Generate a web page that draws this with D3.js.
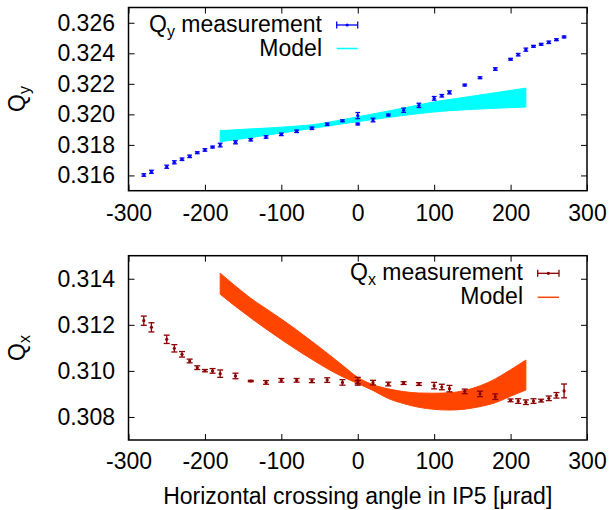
<!DOCTYPE html>
<html><head><meta charset="utf-8">
<script src="https://cdn.jsdelivr.net/npm/d3@7"></script>
<style>
body{margin:0;background:#fff;}
svg{display:block;font-family:"Liberation Sans",Arial,sans-serif;}
</style></head>
<body><svg id="c" width="610" height="510"></svg>
<script>
// ---- data ----
const angles = [-280,-270,-250,-240,-230,-220,-210,-200,-190,-180,-160,-140,-120,-100,-80,-60,-40,-20,0,0,20,40,60,80,100,110,120,140,160,180,200,210,220,230,240,250,260,270];
const qyMeas = [0.31603,0.31624,0.31657,0.31686,0.31706,0.31725,0.31749,0.31767,0.31786,0.31799,0.31817,0.31834,0.31852,0.31869,0.31889,0.31909,0.31935,0.31958,0.31992,0.31937,0.31963,0.31996,0.32027,0.32059,0.32105,0.32122,0.32144,0.32192,0.32240,0.32297,0.32361,0.32391,0.32424,0.32446,0.32459,0.32472,0.32489,0.32507];
const qyErr = [0.00008,0.0001,0.0001,0.0001,0.00008,0.00008,0.00006,0.00008,0.00006,0.00012,0.0001,0.00008,0.00008,0.00008,0.00008,0.00008,0.00008,0.00006,0.0002,0.00006,0.00012,0.00006,0.00014,0.00014,0.00012,0.00008,0.0001,0.00006,0.00006,0.00008,0.00006,0.00008,0.0001,0.00006,0.00006,0.00008,0.00006,0.00006];
const qxMeas = [0.31218,0.31189,0.31137,0.31098,0.31072,0.31043,0.31014,0.31001,0.31000,0.30988,0.30978,0.30956,0.30950,0.30959,0.30959,0.30957,0.30960,0.30950,0.30958,0.30948,0.30949,0.30943,0.30947,0.30943,0.30936,0.30930,0.30923,0.30911,0.30900,0.30888,0.30872,0.30869,0.30864,0.30869,0.30871,0.30881,0.30894,0.30913];
const qxErr = [0.0002,0.0002,0.00018,0.00016,0.00012,0.00008,0.00008,0.00005,0.0001,0.00016,0.00012,0.00003,0.00008,0.00008,0.00008,0.00008,0.0001,0.00012,0.00014,0.0001,0.0001,0.00008,0.00006,0.00006,0.00014,0.00012,0.00014,0.0001,0.00012,0.00012,0.00006,0.0001,0.0001,0.0001,0.00006,0.0001,0.00012,0.0003];
const modelAngles = [-180,-160,-140,-120,-100,-80,-60,-40,-20,0,20,40,60,80,100,120,140,160,180,200,220];
const qyModelHigh = [0.31893,0.31899,0.31905,0.31910,0.31916,0.31923,0.31932,0.31947,0.31965,0.31984,0.32003,0.32022,0.32042,0.32062,0.32082,0.32097,0.32112,0.32127,0.32142,0.32157,0.32172];
const qyModelLow  = [0.31821,0.31834,0.31848,0.31863,0.31878,0.31893,0.31908,0.31923,0.31938,0.31952,0.31966,0.31980,0.31993,0.32005,0.32016,0.32024,0.32030,0.32035,0.32040,0.32044,0.32048];
const qxModelHigh = [0.31424,0.31368,0.31315,0.31270,0.31225,0.31178,0.31128,0.31077,0.31024,0.30972,0.30940,0.30922,0.30910,0.30904,0.30903,0.30905,0.30915,0.30935,0.30965,0.31005,0.31047];
const qxModelLow  = [0.31333,0.31280,0.31230,0.31182,0.31136,0.31092,0.31050,0.31010,0.30975,0.30945,0.30915,0.30880,0.30858,0.30842,0.30833,0.30830,0.30834,0.30845,0.30862,0.30890,0.30917];
const xTicks = [-300,-200,-100,0,100,200,300];
const qyTicks = [0.316,0.318,0.320,0.322,0.324,0.326];
const qxTicks = [0.308,0.310,0.312,0.314];
const xTitle = "Horizontal crossing angle in IP5 [\u03bcrad]";

// ---- drawing ----
const svg = d3.select("#c");
const FS = 23, SUB = 16;
const FONT = "Liberation Sans, Arial, sans-serif";
const x = d3.scaleLinear().domain([-300,300]).range([128.5,587]);

function panel(o){
  const y = d3.scaleLinear().domain(o.ydom).range([o.bottom,o.top]);
  const g = svg.append("g");
  // model band
  const band = modelAngles.map((a,i)=>({a, hi:o.hi[i], lo:o.lo[i]}));
  g.append("path").datum(band)
    .attr("fill",o.modelColor).attr("stroke",o.modelColor).attr("stroke-width",1)
    .attr("d", d3.area().curve(d3.curveMonotoneX).x(d=>x(d.a)).y0(d=>y(d.lo)).y1(d=>y(d.hi)));
  // measurements
  const pts = angles.map((a,i)=>({a, v:o.meas[i], e:o.err[i]}));
  const m = g.append("g").attr("stroke",o.measColor).attr("fill",o.measColor);
  const cw = o.cap;
  pts.forEach(d=>{
    const px=x(d.a), y1=y(d.v+d.e), y2=y(d.v-d.e);
    m.append("line").attr("x1",px).attr("x2",px).attr("y1",y1).attr("y2",y2).attr("stroke-width",1.3);
    m.append("line").attr("x1",px-cw).attr("x2",px+cw).attr("y1",y1).attr("y2",y1).attr("stroke-width",1.3);
    m.append("line").attr("x1",px-cw).attr("x2",px+cw).attr("y1",y2).attr("y2",y2).attr("stroke-width",1.3);
    m.append("circle").attr("cx",px).attr("cy",y(d.v)).attr("r",1.6).attr("stroke","none");
  });
  // axes
  const ax = g.append("g");
  const bAx = ax.append("g").attr("transform",`translate(0,${o.bottom})`)
    .call(d3.axisBottom(x).tickValues(xTicks).tickSize(-6).tickPadding(o.xpad).tickFormat(d3.format("d")));
  ax.append("g").attr("transform",`translate(0,${o.top})`)
    .call(d3.axisTop(x).tickValues(xTicks).tickSize(-6).tickFormat(""));
  ax.append("g").attr("transform",`translate(${x.range()[0]},0)`)
    .call(d3.axisLeft(y).tickValues(o.yticks).tickSize(-6).tickPadding(13.5).tickFormat(d3.format(".3f")));
  ax.append("g").attr("transform",`translate(${x.range()[1]},0)`)
    .call(d3.axisRight(y).tickValues(o.yticks).tickSize(-6).tickFormat(""));
  ax.selectAll(".domain").remove();
  ax.selectAll(".tick line").attr("stroke","#000").attr("stroke-width",1);
  ax.selectAll("text").attr("fill","#000").attr("font-family",FONT).attr("font-size",FS);
  bAx.selectAll("text").text(d=> d<0 ? "-"+Math.abs(d) : d);
  // frame
  g.append("rect").attr("x",x.range()[0]).attr("y",o.top)
    .attr("width",x.range()[1]-x.range()[0]).attr("height",o.bottom-o.top)
    .attr("fill","none").attr("stroke","#000").attr("stroke-width",1.5);
  // y title
  const t = g.append("text").attr("transform",`translate(${o.titleX},${o.titleY}) rotate(-90)`)
    .attr("text-anchor","middle").attr("font-size",FS);
  t.append("tspan").text("Q");
  t.append("tspan").text(o.sub).attr("font-size",SUB).attr("dy",5);
  // legend
  const L = g.append("g").attr("font-size",FS);
  const t1 = L.append("text").attr("x",o.legTextX).attr("y",o.leg1Y+7).attr("text-anchor","end");
  t1.append("tspan").text("Q");
  t1.append("tspan").text(o.sub).attr("font-size",SUB).attr("dy",5);
  t1.append("tspan").text(" measurement").attr("dy",-5);
  L.append("text").attr("x",o.legTextX).attr("y",o.leg2Y+7).attr("text-anchor","end").text("Model");
  const ls = L.append("g").attr("stroke",o.measColor).attr("stroke-width",1.3);
  ls.append("line").attr("x1",o.sampleX1).attr("x2",o.sampleX2).attr("y1",o.leg1Y).attr("y2",o.leg1Y);
  ls.append("line").attr("x1",o.sampleX1).attr("x2",o.sampleX1).attr("y1",o.leg1Y-3.5).attr("y2",o.leg1Y+3.5);
  ls.append("line").attr("x1",o.sampleX2).attr("x2",o.sampleX2).attr("y1",o.leg1Y-3.5).attr("y2",o.leg1Y+3.5);
  L.append("circle").attr("cx",(o.sampleX1+o.sampleX2)/2).attr("cy",o.leg1Y).attr("r",1.6).attr("fill",o.measColor);
  L.append("line").attr("x1",o.sampleX1).attr("x2",o.sampleX2).attr("y1",o.leg2Y).attr("y2",o.leg2Y)
    .attr("stroke",o.modelColor).attr("stroke-width",1.5);
}

panel({ydom:[0.315,0.327], top:7.5, bottom:190.7, meas:qyMeas, err:qyErr, hi:qyModelHigh, lo:qyModelLow,
  measColor:"#0000ff", modelColor:"#00ffff", cap:2.4, yticks:qyTicks, xpad:14, sub:"y",
  titleX:25, titleY:99, legTextX:322, leg1Y:25, leg2Y:48.5, sampleX1:336.7, sampleX2:357.7});
panel({ydom:[0.307,0.315], top:255.7, bottom:440, meas:qxMeas, err:qxErr, hi:qxModelHigh, lo:qxModelLow,
  measColor:"#8b0000", modelColor:"#ff4500", cap:3, yticks:qxTicks, xpad:13, sub:"x",
  titleX:25, titleY:348, legTextX:523, leg1Y:273.3, leg2Y:297.3, sampleX1:537.7, sampleX2:559});

svg.append("text").attr("x",(x.range()[0]+x.range()[1])/2).attr("y",504)
  .attr("text-anchor","middle").attr("font-size",FS).text(xTitle);
</script></body></html>
